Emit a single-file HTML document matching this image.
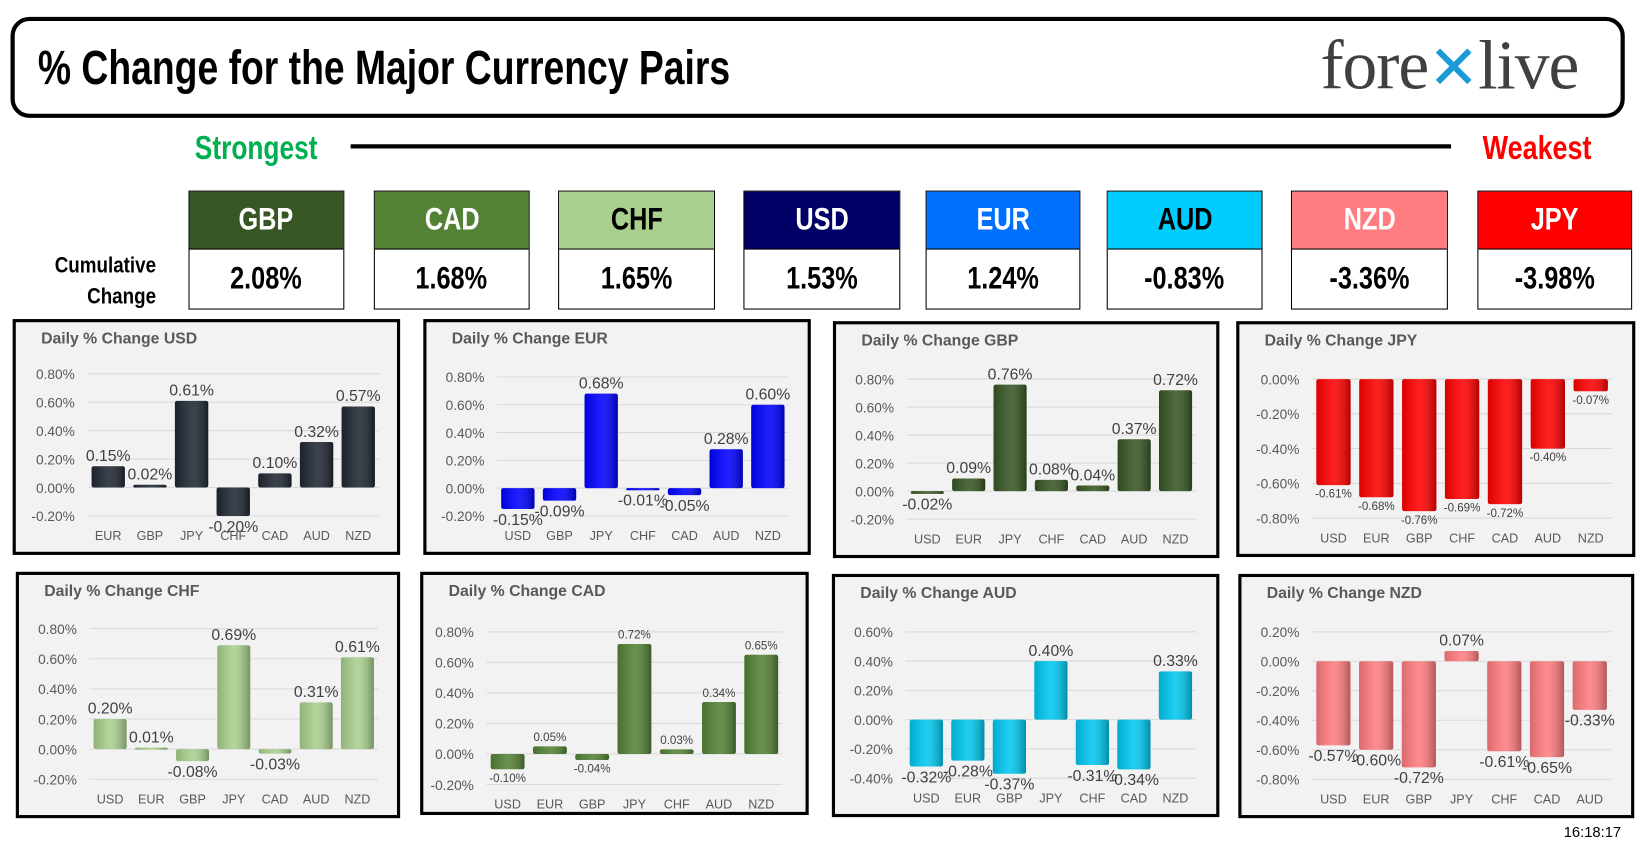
<!DOCTYPE html>
<html><head><meta charset="utf-8">
<style>
html,body{margin:0;padding:0;background:#fff;width:1650px;height:860px;overflow:hidden}
#stage{position:absolute;left:0;top:0;width:1560px;height:813px;transform:scale(1.053);transform-origin:0 0;font-family:"Liberation Sans",sans-serif}
.abs{position:absolute}
.cond{font-family:"Liberation Sans Narrow","Liberation Sans",sans-serif;font-weight:bold}
.hdr{position:absolute;border:1px solid #000;box-sizing:border-box}
.hdr .top{height:54px;display:flex;align-items:center;justify-content:center;font-size:30px;border-bottom:1px solid #000}
.hdr .val{height:56px;display:flex;align-items:center;justify-content:center;font-size:30px;color:#000}
.hdr span{display:inline-block;transform:scaleX(0.8)}
</style></head><body>
<div id="stage">
  <div class="abs" style="left:10px;top:16px;width:1525px;height:88px;border:4px solid #000;border-radius:18px"></div>
  <div class="abs cond" style="left:36px;top:38px;font-size:46px;line-height:52px;transform:scaleX(0.77);transform-origin:0 0;white-space:nowrap">% Change for the Major Currency Pairs</div>
  <div class="abs" style="left:1254px;top:25px;font-family:'Liberation Serif',serif;font-size:66px;color:#404040;white-space:nowrap;letter-spacing:-1px">fore<span style="color:#1a9ad6;font-family:'Liberation Sans',sans-serif;font-size:58px">✕</span>live</div>
  <div class="abs cond" style="left:185px;top:122px;font-size:32px;color:#00b050;transform:scaleX(0.78);transform-origin:0 0">Strongest</div>
  <div class="abs" style="left:333px;top:137px;width:1045px;height:4px;background:#000"></div>
  <div class="abs cond" style="left:1408px;top:122px;font-size:32px;color:#f00;transform:scaleX(0.8);transform-origin:0 0">Weakest</div>
  <div class="abs cond" style="right:1412px;top:238px;font-size:21px;line-height:29px;text-align:right"><span style="display:inline-block;transform:scaleX(0.85);transform-origin:100% 0">Cumulative<br>Change</span></div>

  <div class="hdr cond" style="left:179px;top:181px;width:148px"><div class="top" style="background:#375623;color:#fff"><span>GBP</span></div><div class="val"><span>2.08%</span></div></div>
  <div class="hdr cond" style="left:355px;top:181px;width:148px"><div class="top" style="background:#548235;color:#fff"><span>CAD</span></div><div class="val"><span>1.68%</span></div></div>
  <div class="hdr cond" style="left:530px;top:181px;width:149px"><div class="top" style="background:#a9d08e;color:#000"><span>CHF</span></div><div class="val"><span>1.65%</span></div></div>
  <div class="hdr cond" style="left:706px;top:181px;width:149px"><div class="top" style="background:#000066;color:#fff"><span>USD</span></div><div class="val"><span>1.53%</span></div></div>
  <div class="hdr cond" style="left:879px;top:181px;width:147px"><div class="top" style="background:#0070ff;color:#fff"><span>EUR</span></div><div class="val"><span>1.24%</span></div></div>
  <div class="hdr cond" style="left:1051px;top:181px;width:148px"><div class="top" style="background:#00ccff;color:#000"><span>AUD</span></div><div class="val"><span>-0.83%</span></div></div>
  <div class="hdr cond" style="left:1226px;top:181px;width:149px"><div class="top" style="background:#ff7c80;color:#fff"><span>NZD</span></div><div class="val"><span>-3.36%</span></div></div>
  <div class="hdr cond" style="left:1403px;top:181px;width:147px"><div class="top" style="background:#f00;color:#fff"><span>JPY</span></div><div class="val"><span>-3.98%</span></div></div>

  <svg id="charts" class="abs" style="left:0;top:0" width="1560" height="813"></svg>
  <div class="abs" style="left:1485px;top:782px;font-size:14px">16:18:17</div>
</div>
<script>
const usdCats=["EUR","GBP","JPY","CHF","CAD","AUD","NZD"];
const usdVals=[0.15,0.02,0.61,-0.20,0.10,0.32,0.57];
const eurCats=["USD","GBP","JPY","CHF","CAD","AUD","NZD"];
const eurVals=[-0.15,-0.09,0.68,-0.01,-0.05,0.28,0.60];
const gbpCats=["USD","EUR","JPY","CHF","CAD","AUD","NZD"];
const gbpVals=[-0.02,0.09,0.76,0.08,0.04,0.37,0.72];
const jpyCats=["USD","EUR","GBP","CHF","CAD","AUD","NZD"];
const jpyVals=[-0.61,-0.68,-0.76,-0.69,-0.72,-0.40,-0.07];
const chfCats=["USD","EUR","GBP","JPY","CAD","AUD","NZD"];
const chfVals=[0.20,0.01,-0.08,0.69,-0.03,0.31,0.61];
const cadCats=["USD","EUR","GBP","JPY","CHF","AUD","NZD"];
const cadVals=[-0.10,0.05,-0.04,0.72,0.03,0.34,0.65];
const audCats=["USD","EUR","GBP","JPY","CHF","CAD","NZD"];
const audVals=[-0.32,-0.28,-0.37,0.40,-0.31,-0.34,0.33];
const nzdCats=["USD","EUR","GBP","JPY","CHF","CAD","AUD"];
const nzdVals=[-0.57,-0.60,-0.72,0.07,-0.61,-0.65,-0.33];
const usdTicks=[0.8,0.6,0.4,0.2,0,-0.2];
const jpyTicks=[0,-0.2,-0.4,-0.6,-0.8];
const audTicks=[0.6,0.4,0.2,0,-0.2,-0.4];
const nzdTicks=[0.2,0,-0.2,-0.4,-0.6,-0.8];

const NS="http://www.w3.org/2000/svg";
const svg=document.getElementById('charts');
function mk(tag,attrs,parent){const e=document.createElementNS(NS,tag);for(const k in attrs)e.setAttribute(k,attrs[k]);(parent||svg).appendChild(e);return e;}
const defs=mk('defs',{});
function grad(id,c){
  const g2=mk('linearGradient',{id:id+'s',x1:0,x2:1,y1:0,y2:0},defs);
  mk('stop',{offset:'0','stop-color':'#000','stop-opacity':0.15},g2);
  mk('stop',{offset:'0.5','stop-color':'#fff','stop-opacity':0.12},g2);
  mk('stop',{offset:'1','stop-color':'#000','stop-opacity':0.3},g2);}

function chart(cfg){
  const {key,title,cats,vals,ticks,color,px,py,pw,ph,top,bot,left,right,lab}=cfg;
  const g=mk('g',{});
  
  
  const panel=mk('rect',{x:px+1.5,y:py+1.5,width:pw-3,height:ph-3,fill:'#f2f2f2',stroke:'#000','stroke-width':3},g);
  
  
  const t=mk('text',{x:px+27,y:py+23,'font-size':15,'font-weight':'bold',fill:'#595959'},g);
  t.textContent=title;
  
  
  const ymax=ticks[0],ymin=ticks[ticks.length-1];
  const X0=px+left,X1=px+right,Y0=py+top,Y1=py+bot;
  const y=v=>Y0+(ymax-v)/(ymax-ymin)*(Y1-Y0);
  const bw=(X1-X0)/cats.length;
  const x=i=>X0+bw*(i+0.5);
  ticks.forEach(tv=>{
    const l=mk('line',{x1:X0,x2:X1,y1:y(tv),y2:y(tv),stroke:'#d9d9d9','stroke-width':1},g);
    
    
    const tl=mk('text',{x:X0-12,y:y(tv)+5,'font-size':13,fill:'#595959','text-anchor':'end'},g);
    tl.textContent=tv.toFixed(2)+'%';
    
    
  });
  grad('g'+key,color);
  const w=bw*0.8;
  vals.forEach((v,i)=>{
    const ya=y(Math.max(v,0)),yb=y(Math.min(v,0));
    const h=Math.max(yb-ya,2);
    const b=mk('rect',{x:x(i)-w/2,y:ya,width:w,height:h,fill:color,rx:2},g);
    
    
    mk('rect',{x:x(i)-w/2,y:ya,width:w,height:h,fill:'url(#g'+key+'s)',rx:2},g);
    const vl=mk('text',{x:x(i),y:v>=0?ya-5:yb+(lab>12?15:12),'font-size':lab,fill:'#404040','text-anchor':'middle'},g);
    vl.textContent=v.toFixed(2)+'%';
    
    
    const cl=mk('text',{x:x(i),y:Y1+23,'font-size':12,fill:'#595959','text-anchor':'middle'},g);
    cl.textContent=cats[i];
    
    
  });
}
chart({key:'usd',title:'Daily % Change USD',cats:usdCats,vals:usdVals,ticks:usdTicks,color:'#1f2732',px:12,py:303,pw:368,ph:224,top:52,bot:187,left:71,right:348,lab:15});
chart({key:'eur',title:'Daily % Change EUR',cats:eurCats,vals:eurVals,ticks:usdTicks,color:'#0000ff',px:402,py:303,pw:368,ph:224,top:55,bot:187,left:70,right:347,lab:15});
chart({key:'gbp',title:'Daily % Change GBP',cats:gbpCats,vals:gbpVals,ticks:usdTicks,color:'#375623',px:791,py:305,pw:367,ph:225,top:55,bot:188,left:70,right:345,lab:15});
chart({key:'jpy',title:'Daily % Change JPY',cats:jpyCats,vals:jpyVals,ticks:jpyTicks,color:'#ff0000',px:1174,py:305,pw:379,ph:224,top:55,bot:187,left:72,right:357,lab:11});
chart({key:'chf',title:'Daily % Change CHF',cats:chfCats,vals:chfVals,ticks:usdTicks,color:'#a9d08e',px:15,py:543,pw:365,ph:234,top:54,bot:197,left:70,right:344,lab:15});
chart({key:'cad',title:'Daily % Change CAD',cats:cadCats,vals:cadVals,ticks:usdTicks,color:'#548235',px:399,py:543,pw:369,ph:231,top:57,bot:202,left:63,right:344,lab:11});
chart({key:'aud',title:'Daily % Change AUD',cats:audCats,vals:audVals,ticks:audTicks,color:'#00c8f0',px:790,py:545,pw:368,ph:231,top:55,bot:194,left:70,right:346,lab:15});
chart({key:'nzd',title:'Daily % Change NZD',cats:nzdCats,vals:nzdVals,ticks:nzdTicks,color:'#ff7c80',px:1176,py:545,pw:376,ph:232,top:55,bot:195,left:70,right:354,lab:15});
</script>
</body></html>
